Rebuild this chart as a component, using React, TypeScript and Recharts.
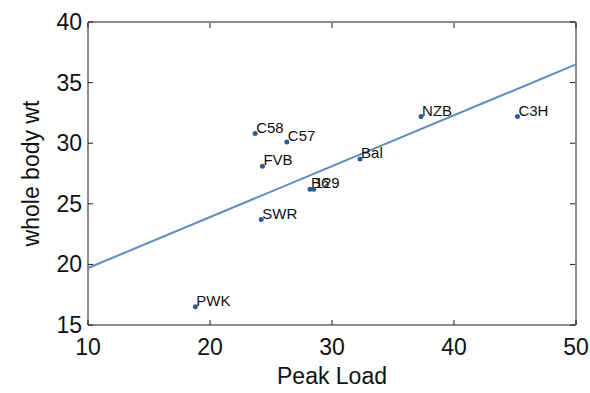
import {
  ScatterChart,
  Scatter,
  XAxis,
  YAxis,
} from "recharts";

// Strain means: peak load vs whole body weight
const strains = ["PWK", "C58", "C57", "FVB", "B6", "129", "SWR", "Bal", "NZB", "C3H"];
const peakLoad = [18.8, 23.7, 26.3, 24.3, 28.2, 28.5, 24.2, 32.3, 37.3, 45.2];
const bodyWt = [16.5, 30.8, 30.1, 28.1, 26.2, 26.2, 23.7, 28.7, 32.2, 32.2];

// Least-squares fit line, endpoints at the x-range limits
const fitX = [10, 50];
const fitY = [19.7, 36.5];

const xTicks = [10, 20, 30, 40, 50];
const yTicks = [15, 20, 25, 30, 35, 40];

const data = strains.map((name, i) => ({ name, load: peakLoad[i], wt: bodyWt[i] }));
const fitData = fitX.map((x, i) => ({ load: x, wt: fitY[i] }));

const FONT = "'Liberation Sans', Arial, Helvetica, sans-serif";
const AXIS = "#1a1a1a";
const TICK_LEN = 5;

const StrainDot = (props: any) => {
  const { cx, cy, payload } = props;
  return (
    <g>
      <circle cx={cx} cy={cy} r={2.5} fill="#2c5d92" />
      <text x={cx + 1} y={cy - 1} fontFamily={FONT} fontSize={15} fill="#111">
        {payload.name}
      </text>
    </g>
  );
};

const NoDot = () => <g />;

const BottomTick = (props: any) => {
  const { x, y, payload } = props;
  return (
    <g>
      <line x1={x} y1={y} x2={x} y2={y - TICK_LEN} stroke={AXIS} />
      <text x={x} y={y + 30} textAnchor="middle" fontFamily={FONT} fontSize={23} fill="#111">
        {payload.value}
      </text>
    </g>
  );
};

const LeftTick = (props: any) => {
  const { x, y, payload } = props;
  return (
    <g>
      <line x1={x} y1={y} x2={x + TICK_LEN} y2={y} stroke={AXIS} />
      <text x={x - 6} y={y + 8} textAnchor="end" fontFamily={FONT} fontSize={23} fill="#111">
        {payload.value}
      </text>
    </g>
  );
};

const TopTick = (props: any) => {
  const { x, y } = props;
  return <line x1={x} y1={y + 1} x2={x} y2={y + 1 + TICK_LEN} stroke={AXIS} />;
};

const RightTick = (props: any) => {
  const { x, y } = props;
  return <line x1={x - 1} y1={y} x2={x - 1 - TICK_LEN} y2={y} stroke={AXIS} />;
};

export default function App() {
  return (
    <div style={{ position: "absolute", left: 0, top: 0, width: 590, height: 393, background: "#fff" }}>
      <ScatterChart width={590} height={393} margin={{ top: 21, right: 13, bottom: 0, left: 0 }}>
        <XAxis
          type="number"
          dataKey="load"
          domain={[10, 50]}
          ticks={xTicks}
          height={68}
          tickSize={0}
          tickMargin={0}
          tick={<BottomTick />}
          stroke={AXIS}
          label={{
            content: (p: any) => {
              const vb = p.viewBox;
              return (
                <text x={vb.x + vb.width / 2} y={vb.y + 59} textAnchor="middle" fontFamily={FONT} fontSize={23} fill="#111">
                  Peak Load
                </text>
              );
            },
          }}
        />
        <YAxis
          type="number"
          dataKey="wt"
          domain={[15, 40]}
          ticks={yTicks}
          width={88}
          tickSize={0}
          tickMargin={0}
          tick={<LeftTick />}
          stroke={AXIS}
          label={{
            content: (p: any) => {
              const vb = p.viewBox;
              const cx = 39;
              const cy = vb.y + vb.height / 2;
              return (
                <text
                  x={cx}
                  y={cy}
                  transform={`rotate(-90 ${cx} ${cy})`}
                  textAnchor="middle"
                  fontFamily={FONT}
                  fontSize={23}
                  fill="#111"
                >
                  whole body wt
                </text>
              );
            },
          }}
        />
        {/* box axes (top / right), same ranges as the main axes */}
        <XAxis
          xAxisId="top"
          orientation="top"
          type="number"
          dataKey="load"
          domain={[10, 50]}
          ticks={xTicks}
          height={1}
          tickSize={0}
          tickMargin={0}
          tick={<TopTick />}
          stroke={AXIS}
        />
        <YAxis
          yAxisId="right"
          orientation="right"
          type="number"
          dataKey="wt"
          domain={[15, 40]}
          ticks={yTicks}
          width={1}
          tickSize={0}
          tickMargin={0}
          tick={<RightTick />}
          stroke={AXIS}
        />
        {/* regression line */}
        <Scatter
          xAxisId="top"
          yAxisId="right"
          data={fitData}
          line={{ stroke: "#5f8bbd", strokeWidth: 2 }}
          shape={<NoDot />}
          isAnimationActive={false}
        />
        <Scatter data={data} shape={<StrainDot />} isAnimationActive={false} />
      </ScatterChart>
    </div>
  );
}
